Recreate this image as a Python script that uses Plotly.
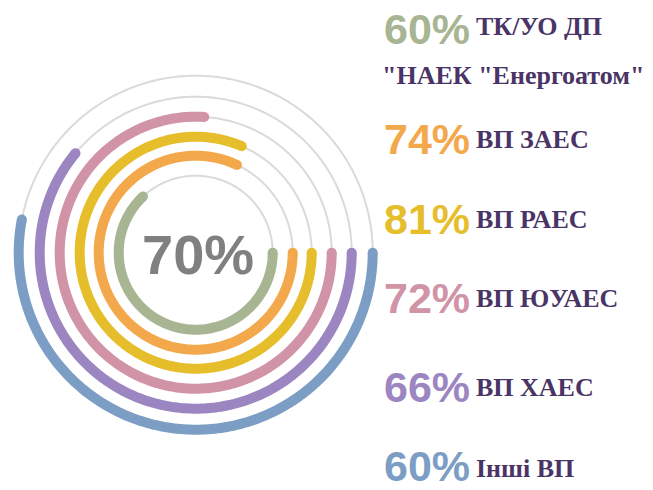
import numpy as np
import plotly.graph_objects as go

# Data
names = ["ТК/УО ДП<br>\"НАЕК \"Енергоатом\"", "ВП ЗАЕС", "ВП РАЕС", "ВП ЮУАЕС", "ВП ХАЕС", "Інші ВП"]
pct_labels = [60, 74, 81, 72, 66, 60]
arc_pct = [63, 82, 81.5, 76, 61, 53]       # arc extents as drawn (% of full circle)
ring_r = [77, 97, 116, 136, 156, 177]
colors = ["#a7b592", "#f3a84b", "#e6be2c", "#d193a6", "#9c86c2", "#7d9ec4"]
center_label = "70%"

W, H = 653, 490
cx, cy = 195.7, 252.7
R = 185.0

fig = go.Figure()
full = np.linspace(0, 360, 361)
for r in ring_r:
    fig.add_trace(go.Scatterpolar(r=[r] * len(full), theta=full, mode="lines",
                                  line=dict(color="#dadada", width=2), hoverinfo="skip"))
for r, p, c in zip(ring_r, arc_pct, colors):
    th = np.linspace(0, p * 3.6, int(p * 3.6) + 2)
    fig.add_trace(go.Scatterpolar(r=[r] * len(th), theta=th, mode="lines",
                                  line=dict(color=c, width=10), hoverinfo="skip"))
    fig.add_trace(go.Scatterpolar(r=[r, r], theta=[0, p * 3.6], mode="markers",
                                  marker=dict(color=c, size=10, line=dict(width=0)), hoverinfo="skip"))

fig.update_layout(
    width=W, height=H, margin=dict(l=0, r=0, t=0, b=0),
    paper_bgcolor="white", plot_bgcolor="white", showlegend=False,
    polar=dict(
        domain=dict(x=[(cx - R) / W, (cx + R) / W], y=[(H - cy - R) / H, (H - cy + R) / H]),
        bgcolor="rgba(0,0,0,0)",
        radialaxis=dict(range=[0, R], visible=False, showgrid=False),
        angularaxis=dict(direction="clockwise", rotation=0, visible=False, showgrid=False),
    ),
)

fig.add_annotation(x=(cx + 2) / W, y=(H - 254) / H, xref="paper", yref="paper",
                   text=f"<b>{center_label}</b>", showarrow=False,
                   font=dict(family="Liberation Sans, Arial", size=56, color="#808080"),
                   xanchor="center", yanchor="middle")

NAME_FONT = dict(family="Liberation Serif, serif", size=26, color="#4a3466")
row_y = [28.5, 139, 219, 298, 387, 466]
for i, (n, p, c, yy) in enumerate(zip(names, pct_labels, colors, row_y)):
    fig.add_annotation(x=382 / W, y=(H - yy) / H, xref="paper", yref="paper",
                       text=f"<b>{p}%</b>", showarrow=False, height=36, valign="middle",
                       font=dict(family="Liberation Sans, Arial", size=43, color=c),
                       xanchor="left", yanchor="middle")
    if i == 0:
        first, second = n.split("<br>")
        fig.add_annotation(x=474 / W, y=(H - 27) / H, xref="paper", yref="paper",
                           text=f"<b>{first}</b>", showarrow=False, font=NAME_FONT,
                           xanchor="left", yanchor="middle")
        fig.add_annotation(x=380 / W, y=(H - 76) / H, xref="paper", yref="paper",
                           text=f"<b>{second}</b>", showarrow=False, font=NAME_FONT,
                           xanchor="left", yanchor="middle")
    else:
        fig.add_annotation(x=474 / W, y=(H - yy - (2 if i == 5 else 0)) / H, xref="paper", yref="paper",
                           text=f"<b>{n}</b>", showarrow=False, font=NAME_FONT,
                           height=28, valign="middle",
                           xanchor="left", yanchor="middle")

fig.write_html("out.html", config={"displayModeBar": False},
               post_script="document.body.style.margin='0px';")
